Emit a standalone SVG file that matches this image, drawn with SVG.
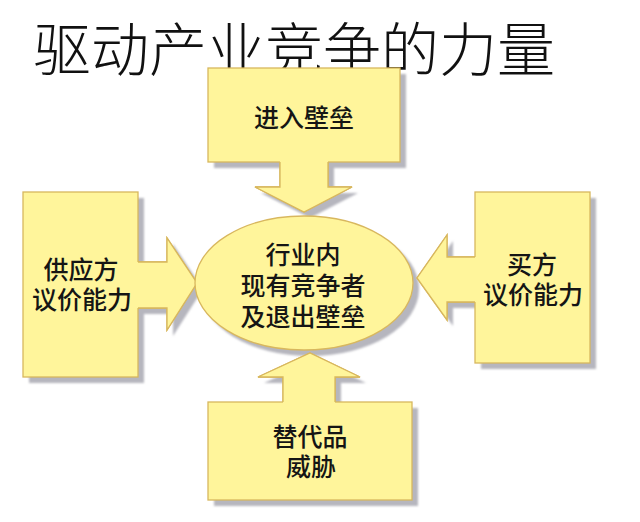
<svg xmlns="http://www.w3.org/2000/svg" width="640" height="522" viewBox="0 0 640 522">
<style>
.sh{fill:#b6b6be;stroke:none}
.fl{fill:#fff59b;stroke:#d8b75e;stroke-width:1.3}
.t{font-family:"Liberation Sans","Noto Sans CJK SC",sans-serif;font-size:25px;font-weight:500;fill:#151515;text-anchor:middle}
.title{font-family:"Noto Sans CJK SC","Noto Sans CJK TC",sans-serif;font-size:58px;font-weight:300;fill:#111}
</style>
<defs>
<filter id="blur" x="-10%" y="-10%" width="120%" height="120%"><feGaussianBlur stdDeviation="1.2"/></filter>
</defs>
<rect width="640" height="522" fill="#ffffff"/>
<text class="title" x="33" y="71">驱动产业竞争的力量</text>
<g id="shadows" filter="url(#blur)">
<path class="sh" d="M214 74H406V168H334V193H358L310 218L261 193H286V168H214Z"/>
<path class="sh" d="M29 198H144V268H173V244L203 289L173 336V314H144V383H29Z"/>
<path class="sh" d="M481 198H596V369H481V308H453V326L423 284L453 241V263H481Z"/>
<path class="sh" d="M214 408H289V383H264L316 359L366 383H341V408H418V506H214Z"/>
<ellipse class="sh" cx="310" cy="289" rx="109" ry="67"/>
</g>
<g id="connectors">
<path id="arrow-top" class="fl" d="M280 160V187H255L304 212L352 187H328V160"/>
<path id="arrow-left" class="fl" d="M136 262H167V238L197 283L167 330V308H136"/>
<path id="arrow-right" class="fl" d="M477 257H447V235L417 278L447 320V302H477"/>
<path id="arrow-bottom" class="fl" d="M283 404V377H258L310 353L360 377H335V404"/>
</g>
<g id="node-entry">
<rect class="fl" x="208" y="68" width="192" height="94"/>
<path fill="#fff59b" d="M280 160V187H255L304 212L352 187H328V160Z"/>
<path fill="none" stroke="#d8b75e" stroke-width="1.3" d="M280 162V187H255L304 212L352 187H328V162"/>
<text class="t" x="304" y="127">进入壁垒</text>
</g>
<g id="node-supplier">
<rect class="fl" x="23" y="192" width="115" height="185"/>
<path fill="#fff59b" d="M136 262H167V238L197 283L167 330V308H136Z"/>
<path fill="none" stroke="#d8b75e" stroke-width="1.3" d="M138 262H167V238L197 283L167 330V308H138"/>
<text class="t"><tspan x="81" y="279">供应方</tspan><tspan x="82" y="309">议价能力</tspan></text>
</g>
<g id="node-buyer">
<rect class="fl" x="475" y="192" width="115" height="171"/>
<path fill="#fff59b" d="M477 257H447V235L417 278L447 320V302H477Z"/>
<path fill="none" stroke="#d8b75e" stroke-width="1.3" d="M475 257H447V235L417 278L447 320V302H475"/>
<text class="t"><tspan x="532" y="274">买方</tspan><tspan x="533" y="304">议价能力</tspan></text>
</g>
<g id="node-substitute">
<rect class="fl" x="208" y="402" width="204" height="98"/>
<path fill="#fff59b" d="M283 404V377H258L310 353L360 377H335V404Z"/>
<path fill="none" stroke="#d8b75e" stroke-width="1.3" d="M283 402V377H258L310 353L360 377H335V402"/>
<text class="t"><tspan x="310" y="446">替代品</tspan><tspan x="311" y="476">威胁</tspan></text>
</g>
<g id="node-rivalry">
<ellipse class="fl" cx="304" cy="283" rx="109" ry="67"/>
<text class="t"><tspan x="303" y="264">行业内</tspan><tspan x="303" y="295">现有竞争者</tspan><tspan x="303" y="326">及退出壁垒</tspan></text>
</g>
</svg>
